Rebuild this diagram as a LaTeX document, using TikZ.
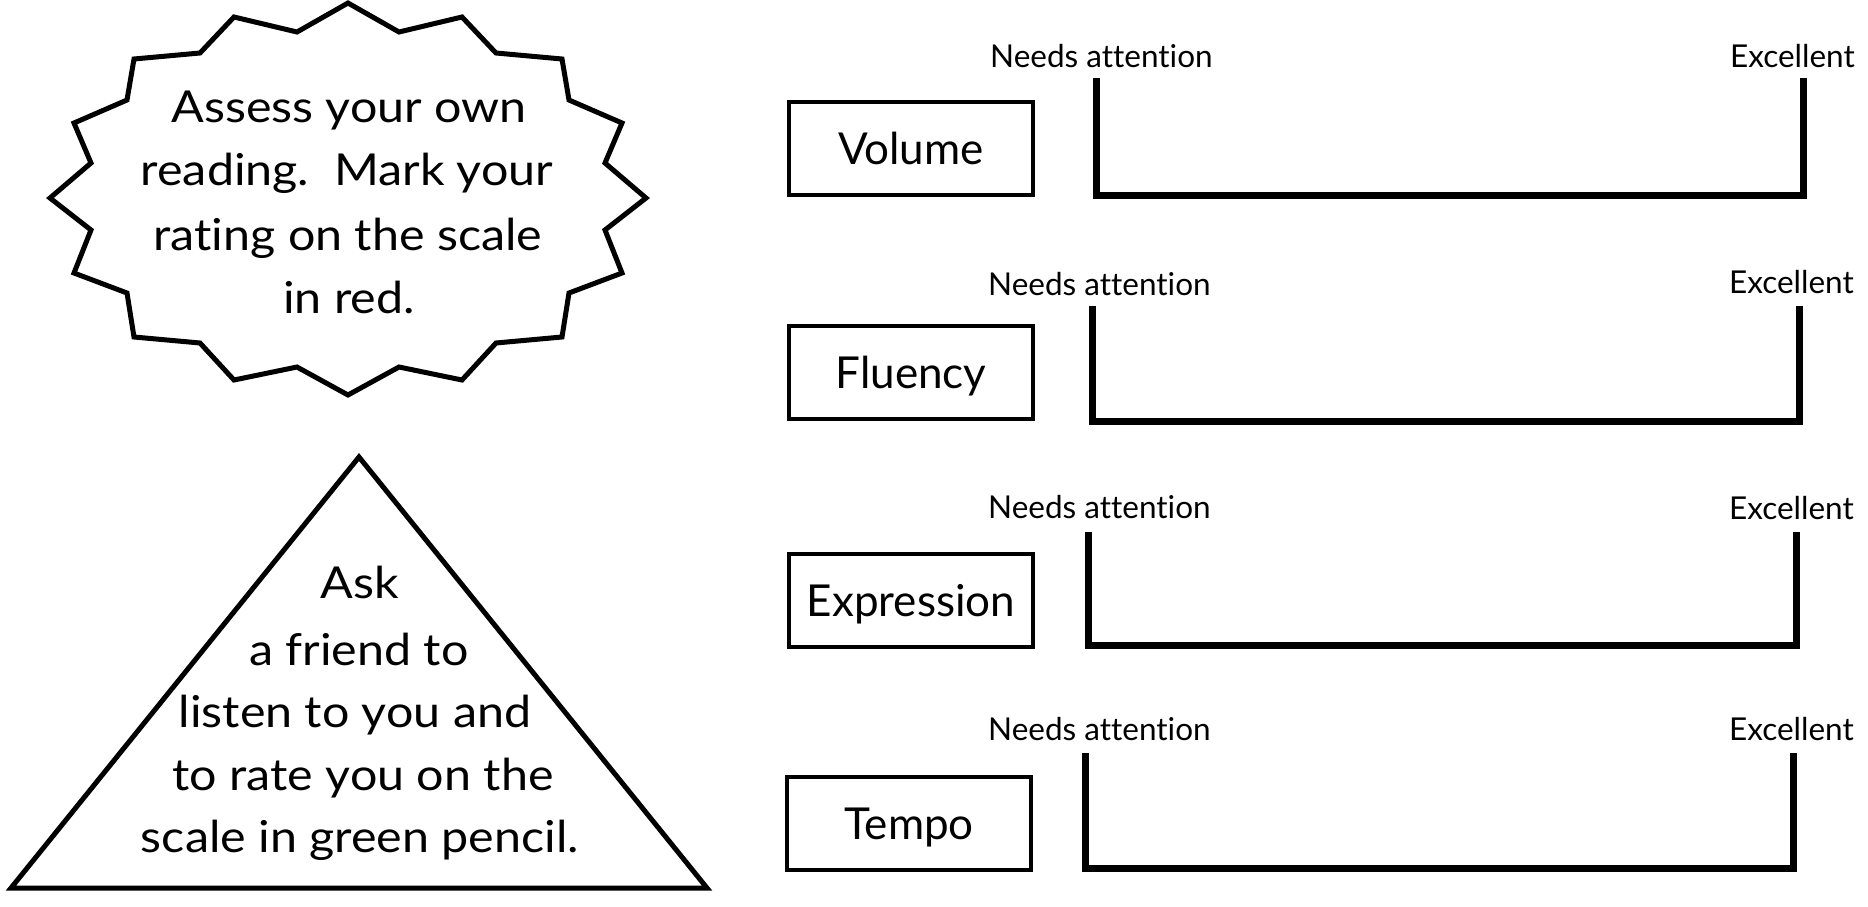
\documentclass[tikz,border=0pt]{standalone}
\usepackage{fontspec}
\setmainfont{Lato}[Ligatures=NoCommon]
\newfontfamily\widefont{Lato}[FakeStretch=1.1,Ligatures=NoCommon]
\begin{document}
\begin{tikzpicture}[x=1pt,y=-1pt,
  outline/.style={draw=black,line width=5pt,line join=miter},
  bigtext/.style={font=\widefont\fontsize{44}{63}\selectfont,inner sep=0pt,anchor=base},
  labelbox/.style={draw=black,line width=4pt,minimum width=244pt,minimum height=93pt,
    inner sep=0pt,text height=32pt,text depth=0pt,font=\fontsize{44}{54}\selectfont},
  endlabel/.style={font=\fontsize{31.5}{38}\selectfont,inner sep=0pt},
  scalebar/.style={draw=black,line width=7pt,line join=miter,line cap=butt}]
\fill[white] (0,0) rectangle (1868,906);
\useasboundingbox (0,0) rectangle (1868,906);
% starburst
\draw[outline] (348,3) -- (399,32) -- (462,17) -- (496,53) -- (562,59) -- (569,100) -- (622,123) -- (605,163) -- (646,198) -- (605,230) -- (622,273) -- (569,293) -- (562,337) -- (496,343) -- (462,380) -- (399,367) -- (348,395) -- (297,367) -- (234,380) -- (200,343) -- (134,337) -- (127,293) -- (74,273) -- (91,230) -- (50,198) -- (91,163) -- (74,123) -- (127,100) -- (134,59) -- (200,53) -- (234,17) -- (297,32) -- cycle;
\node[bigtext] (s1) at (349,122) {Assess your own};
\node[bigtext] (s2) at (347,185) {reading.\ \ Mark your};
\node[bigtext] (s3) at (348,250) {rating on the scale};
\node[bigtext] (s4) at (349,313) {in red.};
% triangle
\draw[outline] (359,457) -- (11,888) -- (707,888) -- cycle;
\node[bigtext] (t1) at (360,598) {Ask};
\node[bigtext] (t2) at (359,665) {a friend to};
\node[bigtext] (t3) at (355,727) {listen to you and};
\node[bigtext] (t4) at (363,790) {to rate you on the};
\node[bigtext] (t5) at (360,852) {scale in green pencil.};
% row 1
\node[labelbox] (volume) at (911,148.5) {Volume};
\node[endlabel,anchor=base west] (na1) at (990,67) {Needs attention};
\node[endlabel,anchor=base east] (ex1) at (1855,67) {Excellent};
\draw[scalebar] (1096,78) -- (1096,195) -- (1803,195) -- (1803,78);
% row 2
\node[labelbox] (fluency) at (911,372.5) {Fluency};
\node[endlabel,anchor=base west] (na2) at (988,295) {Needs attention};
\node[endlabel,anchor=base east] (ex2) at (1854,293) {Excellent};
\draw[scalebar] (1092,306) -- (1092,421) -- (1799,421) -- (1799,306);
% row 3
\node[labelbox] (expression) at (911,600) {Expression};
\node[endlabel,anchor=base west] (na3) at (988,518) {Needs attention};
\node[endlabel,anchor=base east] (ex3) at (1854,519) {Excellent};
\draw[scalebar] (1088,532) -- (1088,645) -- (1796,645) -- (1796,532);
% row 4
\node[labelbox] (tempo) at (909,823.5) {Tempo};
\node[endlabel,anchor=base west] (na4) at (988,740) {Needs attention};
\node[endlabel,anchor=base east] (ex4) at (1854,740) {Excellent};
\draw[scalebar] (1085,753) -- (1085,868) -- (1793,868) -- (1793,753);
\end{tikzpicture}
\end{document}
